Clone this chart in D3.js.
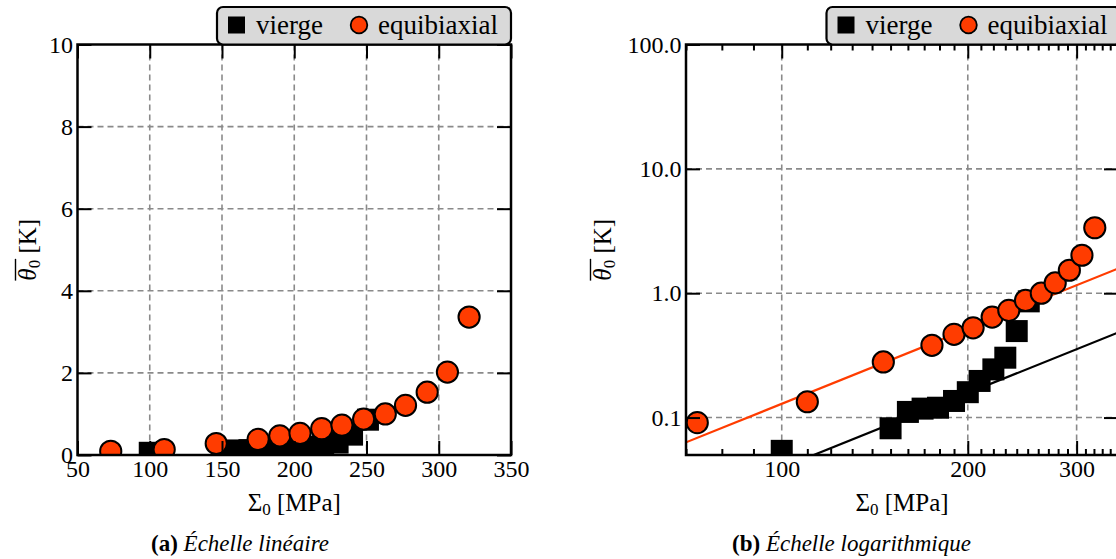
<!DOCTYPE html>
<html>
<head>
<meta charset="utf-8">
<script src="https://cdn.jsdelivr.net/npm/d3@7"></script>
<style>
  html, body { margin: 0; padding: 0; background: #fff; }
  svg { display: block; }
  text { font-family: "Liberation Serif", "DejaVu Serif", serif; fill: #000; }
</style>
</head>
<body>
<svg id="chart" width="1116" height="559"></svg>
<script>
// ---------------- data ----------------
const sigmaVierge = [100, 150, 160, 169, 179, 190, 200, 209, 220, 230, 240, 251];
const thetaVierge = [0.054, 0.082, 0.111, 0.118, 0.12, 0.136, 0.16, 0.197, 0.244, 0.303, 0.496, 0.86];
const sigmaEqui = [73, 110, 146, 175, 190, 204, 219, 233, 248, 263, 277, 292, 306, 321];
const thetaEqui = [0.091, 0.134, 0.28, 0.381, 0.467, 0.527, 0.643, 0.728, 0.875, 1.0, 1.21, 1.53, 2.02, 3.36];
// power-law fit lines (log panel), end points
const fitSigma = [70, 350];
const fitEqui = [0.0632, 1.579];
const fitVierge = [0.0193, 0.483];

const linXTicks = [50, 100, 150, 200, 250, 300, 350];
const linYTicks = [0, 2, 4, 6, 8, 10];
const logXTicks = [100, 200, 300];
const logXMinor = [70, 80, 90, 110, 120, 130, 140, 150, 160, 170, 180, 190, 210, 220, 230, 240, 250, 260, 270, 280, 290, 310, 320, 330, 340, 350];
const logYTicks = [0.1, 1, 10, 100];
const logYLabels = ["0.1", "1.0", "10.0", "100.0"];
const legendNames = ["vierge", "equibiaxial"];

const RED = "#ff3c00";
const svg = d3.select("#chart");

const plotTop = 44.5, plotBottom = 455;

function drawPanel(cfg) {
  const { id, x, y, xTicks, xMinor, yTicks, yFmt, xFmt, fits, legendLeft, yLabelX, caption, captionX } = cfg;
  const [x0, x1] = x.range();
  const g = svg.append("g");
  g.append("clipPath").attr("id", "clip" + id)
    .append("rect").attr("x", x0).attr("y", plotTop).attr("width", x1 - x0).attr("height", plotBottom - plotTop);

  // grid
  const grid = g.append("g").attr("stroke", "#8a8a8a").attr("stroke-width", 1.6).attr("stroke-dasharray", "6,4");
  grid.selectAll(".gx").data(xTicks.filter(v => x(v) > x0 + 1 && x(v) < x1 - 1)).join("line")
    .attr("x1", d => x(d)).attr("x2", d => x(d)).attr("y1", plotTop).attr("y2", plotBottom);
  grid.selectAll(".gy").data(yTicks.filter(v => y(v) > plotTop + 1 && y(v) < plotBottom - 1)).join("line")
    .attr("y1", d => y(d)).attr("y2", d => y(d)).attr("x1", x0).attr("x2", x1);

  const plot = g.append("g").attr("clip-path", `url(#clip${id})`);
  if (fits) {
    const line = d3.line().x(d => x(d[0])).y(d => y(d[1]));
    plot.append("path").datum(fitSigma.map((s, i) => [s, fitEqui[i]]))
      .attr("d", line).attr("fill", "none").attr("stroke", RED).attr("stroke-width", 2.2);
    plot.append("path").datum(fitSigma.map((s, i) => [s, fitVierge[i]]))
      .attr("d", line).attr("fill", "none").attr("stroke", "#000").attr("stroke-width", 2.2);
  }
  const sq = 22;
  plot.selectAll(".sq").data(sigmaVierge.map((s, i) => [s, thetaVierge[i]])).join("rect")
    .attr("x", d => x(d[0]) - sq / 2).attr("y", d => y(d[1]) - sq / 2)
    .attr("width", sq).attr("height", sq).attr("fill", "#000");
  plot.selectAll(".ci").data(sigmaEqui.map((s, i) => [s, thetaEqui[i]])).join("circle")
    .attr("cx", d => x(d[0])).attr("cy", d => y(d[1])).attr("r", 10.6)
    .attr("fill", RED).attr("stroke", "#000").attr("stroke-width", 2);

  // axes
  const tickStyle = sel => {
    sel.select(".domain").remove();
    sel.selectAll(".tick line").attr("stroke", "#000").attr("stroke-width", 2);
    sel.selectAll(".tick text").attr("font-size", 24).attr("font-family", "Liberation Serif");
  };
  g.append("g").attr("transform", `translate(0,${plotBottom})`)
    .call(d3.axisBottom(x).tickValues(xTicks).tickFormat(xFmt).tickSizeInner(-14).tickSizeOuter(0).tickPadding(5))
    .call(tickStyle);
  g.append("g").attr("transform", `translate(0,${plotTop})`)
    .call(d3.axisTop(x).tickValues(xTicks).tickFormat("").tickSizeInner(-14).tickSizeOuter(0))
    .call(tickStyle);
  if (xMinor) {
    g.append("g").attr("transform", `translate(0,${plotBottom})`)
      .call(d3.axisBottom(x).tickValues(xMinor).tickFormat("").tickSizeInner(-6).tickSizeOuter(0))
      .call(tickStyle);
    g.append("g").attr("transform", `translate(0,${plotTop})`)
      .call(d3.axisTop(x).tickValues(xMinor).tickFormat("").tickSizeInner(-6).tickSizeOuter(0))
      .call(tickStyle);
  }
  g.append("g").attr("transform", `translate(${x0},0)`)
    .call(d3.axisLeft(y).tickValues(yTicks).tickFormat(yFmt).tickSizeInner(-14).tickSizeOuter(0).tickPadding(4.5))
    .call(tickStyle);
  g.append("g").attr("transform", `translate(${x1},0)`)
    .call(d3.axisRight(y).tickValues(yTicks).tickFormat("").tickSizeInner(-14).tickSizeOuter(0))
    .call(tickStyle);
  g.selectAll(".tick text").attr("fill", "#000");

  // spines
  g.append("rect").attr("x", x0).attr("y", plotTop).attr("width", x1 - x0).attr("height", plotBottom - plotTop)
    .attr("fill", "none").attr("stroke", "#000").attr("stroke-width", 2.5);

  // x label
  const xl = g.append("text").attr("x", (x0 + x1) / 2).attr("y", 511).attr("text-anchor", "middle").attr("font-size", 25);
  xl.append("tspan").text("Σ");
  xl.append("tspan").attr("font-size", 17).attr("dy", 4).text("0");
  xl.append("tspan").attr("dy", -4).text(" [MPa]");

  // y label
  const yg = g.append("g").attr("transform", `translate(${yLabelX},${(plotTop + plotBottom) / 2}) rotate(-90)`);
  const yl = yg.append("text").attr("x", 0).attr("y", 0).attr("text-anchor", "middle").attr("font-size", 25);
  yl.append("tspan").attr("font-style", "italic").text("θ");
  yl.append("tspan").attr("font-size", 17).attr("dy", 4).text("0");
  yl.append("tspan").attr("dy", -4).text(" [K]");
  const node = yl.node();
  const sx = node.getStartPositionOfChar(0).x;
  const ex = node.getEndPositionOfChar(1).x;
  yg.append("line").attr("x1", sx).attr("x2", ex + 1).attr("y1", -20.5).attr("y2", -20.5)
    .attr("stroke", "#000").attr("stroke-width", 1.4);

  // legend
  const lg = g.append("g").attr("transform", `translate(${legendLeft},7)`);
  lg.append("rect").attr("width", 294).attr("height", 37.5).attr("rx", 6)
    .attr("fill", "#d9d9d9").attr("stroke", "#000").attr("stroke-width", 2.2);
  lg.append("rect").attr("x", 11).attr("y", 9.5).attr("width", 17).attr("height", 17).attr("fill", "#000");
  lg.append("text").attr("x", 39).attr("y", 27).attr("font-size", 27).text(legendNames[0]);
  lg.append("circle").attr("cx", 142).attr("cy", 18).attr("r", 8.3)
    .attr("fill", RED).attr("stroke", "#000").attr("stroke-width", 1.8);
  lg.append("text").attr("x", 161).attr("y", 27).attr("font-size", 27).text(legendNames[1]);

  // caption
  const cp = svg.append("text").attr("x", captionX).attr("y", 551).attr("font-size", 23);
  cp.append("tspan").attr("font-weight", "bold").text(caption[0]);
  cp.append("tspan").attr("font-style", "italic").text(" " + caption[1]);
}

drawPanel({
  id: "a",
  x: d3.scaleLinear().domain([50, 350]).range([77.5, 511]),
  y: d3.scaleLinear().domain([0, 10]).range([plotBottom, plotTop]),
  xTicks: linXTicks, xMinor: null, yTicks: linYTicks,
  xFmt: d3.format("d"), yFmt: d3.format("d"),
  fits: false, legendLeft: 217, yLabelX: 36,
  caption: ["(a)", "Échelle linéaire"], captionX: 151
});

drawPanel({
  id: "b",
  x: d3.scaleLog().domain([70, 350]).range([686, 1118]),
  y: d3.scaleLog().domain([0.05, 100]).range([plotBottom, plotTop]),
  xTicks: logXTicks, xMinor: logXMinor, yTicks: logYTicks,
  xFmt: d3.format("d"), yFmt: (d, i) => logYLabels[i],
  fits: true, legendLeft: 826.5, yLabelX: 611,
  caption: ["(b)", "Échelle logarithmique"], captionX: 732
});
</script>
</body>
</html>
